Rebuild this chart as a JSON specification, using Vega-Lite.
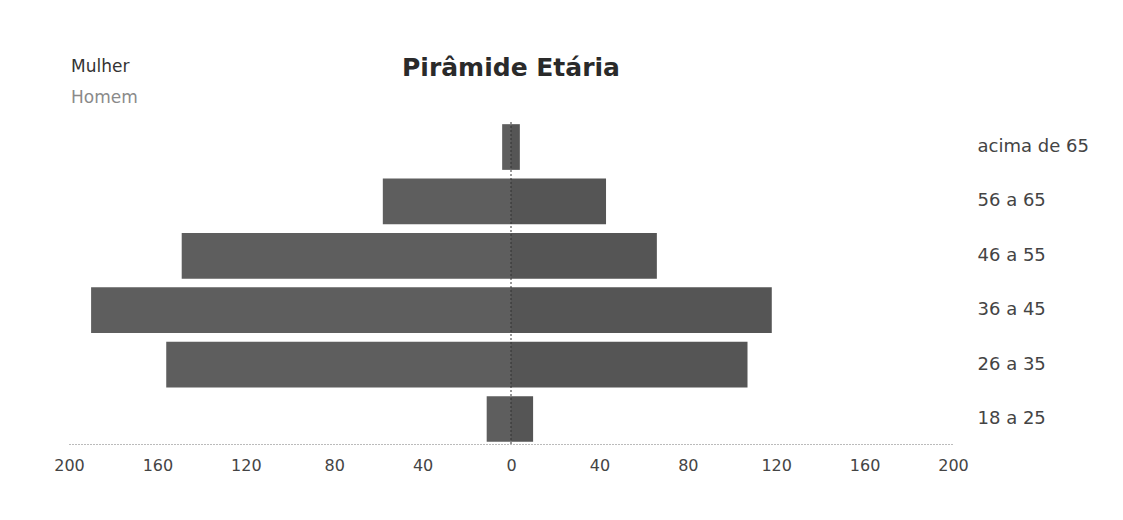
{
  "$schema": "https://vega.github.io/schema/vega-lite/v6.json",
  "width": 884,
  "height": 322,
  "autosize": {"type": "none"},
  "padding": {"left": 69, "top": 122, "right": 170, "bottom": 76},
  "background": "white",
  "config": {"view": {"stroke": null}, "font": "DejaVu Sans"},
  "title": {"text": "Pirâmide Etária", "anchor": "middle", "fontSize": 25, "font": "DejaVu Sans", "fontWeight": "bold", "color": "#2a2a2a", "offset": -23},
  "data": {"values": [
    {"faixa": "acima de 65", "sexo": "Homem", "valor": -4},
    {"faixa": "acima de 65", "sexo": "Mulher", "valor": 4},
    {"faixa": "56 a 65", "sexo": "Homem", "valor": -58},
    {"faixa": "56 a 65", "sexo": "Mulher", "valor": 43},
    {"faixa": "46 a 55", "sexo": "Homem", "valor": -149},
    {"faixa": "46 a 55", "sexo": "Mulher", "valor": 66},
    {"faixa": "36 a 45", "sexo": "Homem", "valor": -190},
    {"faixa": "36 a 45", "sexo": "Mulher", "valor": 118},
    {"faixa": "26 a 35", "sexo": "Homem", "valor": -156},
    {"faixa": "26 a 35", "sexo": "Mulher", "valor": 107},
    {"faixa": "18 a 25", "sexo": "Homem", "valor": -11},
    {"faixa": "18 a 25", "sexo": "Mulher", "valor": 10}
  ]},
  "layer": [
    {
      "mark": {"type": "bar"},
      "encoding": {
        "y": {
          "field": "faixa", "type": "nominal",
          "sort": ["acima de 65", "56 a 65", "46 a 55", "36 a 45", "26 a 35", "18 a 25"],
          "scale": {"paddingInner": 0.16, "paddingOuter": 0.04},
          "axis": {"orient": "right", "title": null, "domain": false, "ticks": false, "labelPadding": 24, "labelFontSize": 18, "labelColor": "#444444", "labelAlign": "left", "labelFont": "DejaVu Sans"}
        },
        "x": {
          "field": "valor", "type": "quantitative",
          "scale": {"domain": [-200, 200], "nice": false},
          "axis": {"values": [-200, -160, -120, -80, -40, 0, 40, 80, 120, 160, 200], "labelExpr": "abs(datum.value)", "labelFlush": false, "title": null, "grid": false, "ticks": false, "domainDash": [1, 2], "domainColor": "#777777", "labelFontSize": 16, "labelPadding": 13, "labelColor": "#444444", "labelFont": "DejaVu Sans"}
        },
        "color": {
          "field": "sexo", "type": "nominal",
          "scale": {"domain": ["Mulher", "Homem"], "range": ["#555555", "#5e5e5e"]},
          "legend": {
            "orient": "none", "legendX": -15, "legendY": -64, "title": null,
            "symbolOpacity": 0, "symbolSize": 1, "symbolStrokeWidth": 0, "labelOffset": 0,
            "labelFontSize": 17, "labelFont": "DejaVu Sans", "rowPadding": 13,
            "encode": {"labels": {"update": {"fill": {"signal": "datum.value === 'Mulher' ? '#333333' : '#8a8a8a'"}}}}
          }
        }
      }
    },
    {
      "mark": {"type": "rule", "strokeDash": [2, 2], "color": "#333333"},
      "data": {"values": [{"x": 0}]},
      "encoding": {"x": {"field": "x", "type": "quantitative"}}
    }
  ]
}
